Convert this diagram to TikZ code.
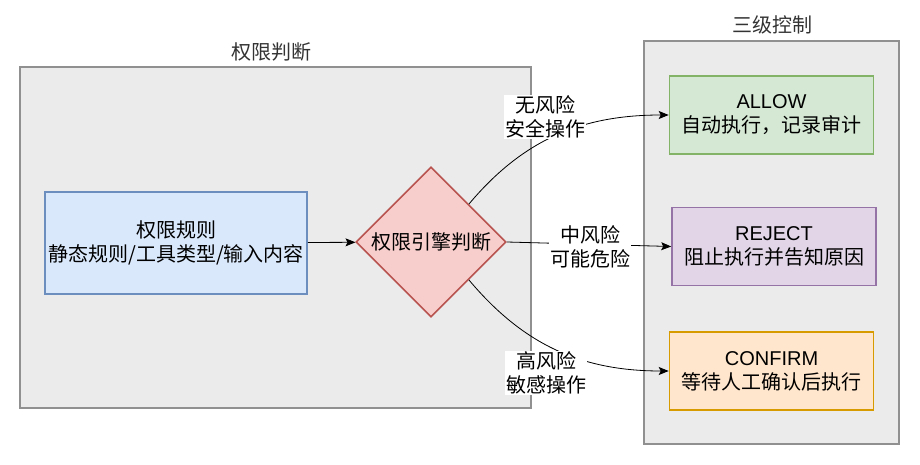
\documentclass[tikz,border=0pt]{standalone}
\usepackage{fontspec}
\setmainfont{Liberation Sans}
\newfontfamily\cjk{Noto Sans CJK SC}
\usetikzlibrary{arrows.meta,shapes.geometric}
\definecolor{grpfill}{HTML}{EBEBEB}
\definecolor{grpline}{HTML}{909090}
\definecolor{titlegray}{HTML}{333333}
\definecolor{bluefill}{HTML}{DAE8FC}
\definecolor{blueline}{HTML}{6C8EBF}
\definecolor{redfill}{HTML}{F8CECC}
\definecolor{redline}{HTML}{B85450}
\definecolor{greenfill}{HTML}{D5E8D4}
\definecolor{greenline}{HTML}{82B366}
\definecolor{purplefill}{HTML}{E1D5E7}
\definecolor{purpleline}{HTML}{9673A6}
\definecolor{orangefill}{HTML}{FFE6CC}
\definecolor{orangeline}{HTML}{D79B00}

\begin{document}
\begin{tikzpicture}[x=1pt,y=-1pt,
font=\fontsize{20}{24}\selectfont,
group/.style={%
draw=grpline,
fill=grpfill,
line width=1.6pt,
},
grptitle/.style={%
text=titlegray,
font=\fontsize{20}{24}\selectfont\cjk,
},
box/.style={%
line width=1.6pt,
align=center,
minimum width=204pt,
minimum height=78pt,
},
elabel/.style={%
fill=white,
align=center,
inner sep=1pt,
font=\fontsize{20}{24}\selectfont\cjk,
},
edge/.style={%
-{Stealth[length=10pt,width=8pt,inset=2pt]},
line width=0.8pt,
},
]
\useasboundingbox (0,0) rectangle (920,465);
%% Groups
\node[group,minimum width=511pt,minimum height=341pt] (judge) at (275.5,237.5) {};
\node[grptitle] (judgetitle) at (271,52) {权限判断};
\node[group,minimum width=255pt,minimum height=403pt] (control) at (771.5,242.5) {};
\node[grptitle] (controltitle) at (772,25) {三级控制};
%% Judge
\node[box,draw=blueline,fill=bluefill,minimum width=260pt,minimum height=102pt] (rules) at (176,243)
{{\cjk 权限规则}\\{\cjk 静态规则/工具类型/输入内容}};
\node[diamond,draw=redline,fill=redfill,line width=1.6pt,inner sep=0pt,
minimum width=150pt,minimum height=150pt] (engine) at (431,242) {\cjk 权限引擎判断};
%% Control
\node[box,draw=greenline,fill=greenfill] (allow) at (771.5,115) {ALLOW\\{\cjk 自动执行，记录审计}};
\node[box,draw=purpleline,fill=purplefill] (reject) at (774,246.5) {REJECT\\{\cjk 阻止执行并告知原因}};
\node[box,draw=orangeline,fill=orangefill] (confirm) at (771.5,371) {CONFIRM\\{\cjk 等待人工确认后执行}};
%% Edges
\draw[edge] (rules) -- (engine);
\draw[edge] (engine.north east) to[out=50,in=180] (allow.west);
\draw[edge] (engine.east) -- (reject.west);
\draw[edge] (engine.south east) to[out=-50,in=180] (confirm.west);
\node[elabel] (norisk) at (545,117) {无风险\\安全操作};
\node[elabel] (midrisk) at (590,247) {中风险\\可能危险};
\node[elabel] (highrisk) at (546,373) {高风险\\敏感操作};
\end{tikzpicture}
\end{document}
